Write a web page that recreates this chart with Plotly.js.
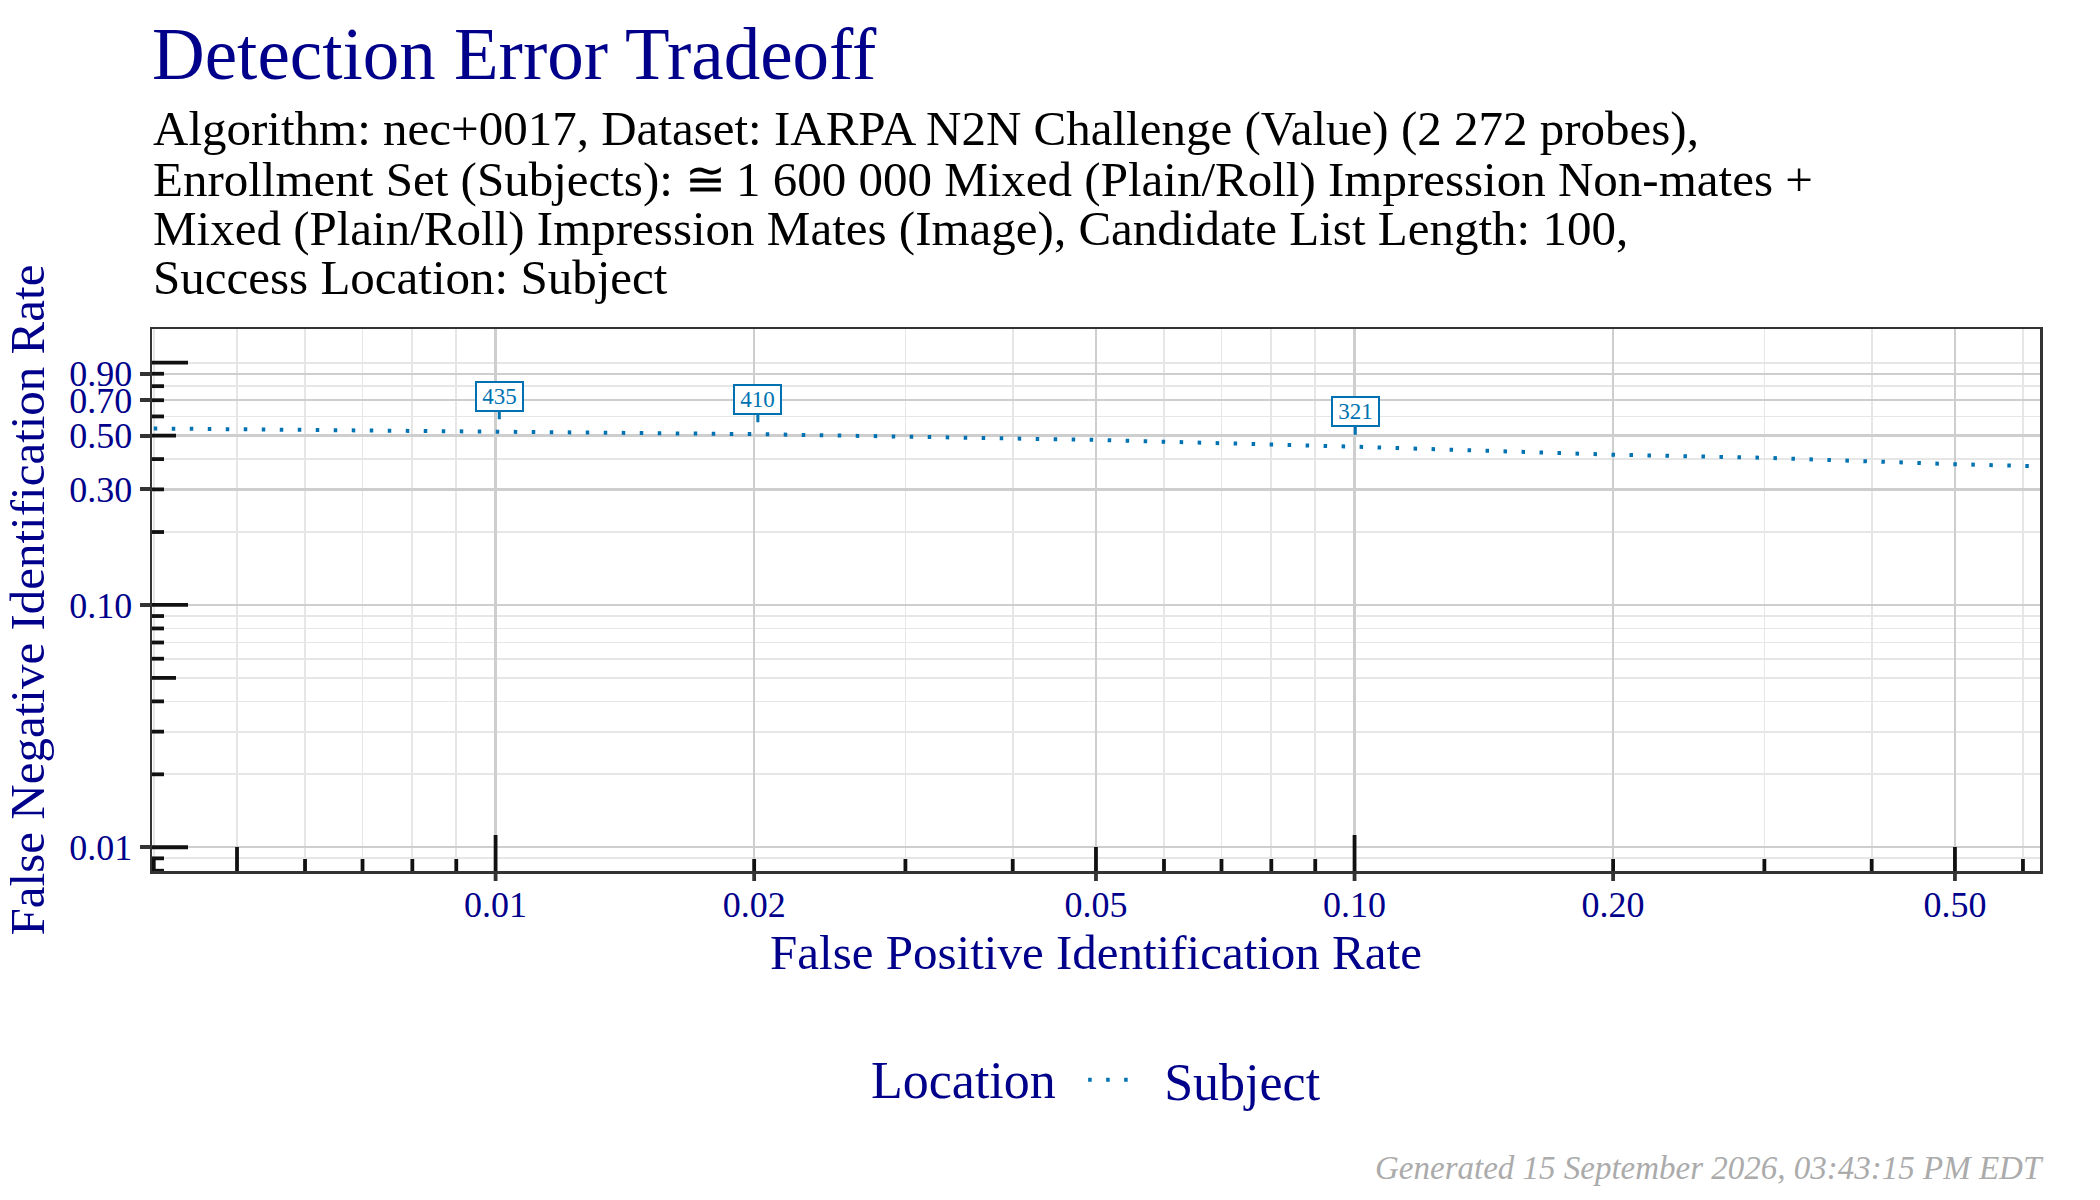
<!DOCTYPE html>
<html>
<head>
<meta charset="utf-8">
<script src="https://cdn.plot.ly/plotly-3.0.1.min.js"></script>
<style>html,body{margin:0;padding:0;background:#fff;}</style>
</head>
<body>
<div id="chart" style="width:2100px;height:1200px;"></div>
<script>
// Data
const fpir = [0.0040, 0.0060, 0.0101, 0.0202, 0.050, 0.100, 0.200, 0.300, 0.500, 0.640];
const fnir = [0.535, 0.527, 0.521, 0.507, 0.480, 0.450, 0.417, 0.405, 0.381, 0.373];
const seriesName = 'Subject';
const legendTitle = 'Location';

// Threshold labels
const thrFpir = [0.0101, 0.0202, 0.1002];
const thrFnir = [0.521, 0.507, 0.450];
const thrLabel = ['435', '410', '321'];

// Axis ticks
const xTickVals = [0.01, 0.02, 0.05, 0.1, 0.2, 0.5];
const xTickText = ['0.01', '0.02', '0.05', '0.10', '0.20', '0.50'];
const yTickVals = [0.01, 0.1, 0.3, 0.5, 0.7, 0.9];
const yTickText = ['0.01', '0.10', '0.30', '0.50', '0.70', '0.90'];
const xMinorVals = [0.004, 0.005, 0.006, 0.007, 0.008, 0.009, 0.03, 0.04, 0.06, 0.07, 0.08, 0.09, 0.3, 0.4, 0.6];
const yMinorVals = [0.008, 0.009, 0.02, 0.03, 0.04, 0.05, 0.06, 0.07, 0.08, 0.09, 0.2, 0.4, 0.6, 0.8, 1.0];

// Log-tick annotation marks (long / medium / short)
const xLogLong = [0.01, 0.1];
const xLogMed = [0.005, 0.05, 0.5];
const xLogShort = [0.004, 0.006, 0.007, 0.008, 0.009, 0.02, 0.03, 0.04, 0.06, 0.07, 0.08, 0.09, 0.2, 0.3, 0.4, 0.6];
const yLogLong = [0.01, 0.1, 1.0];
const yLogMed = [0.05, 0.5];
const yLogShort = [0.008, 0.009, 0.02, 0.03, 0.04, 0.06, 0.07, 0.08, 0.09, 0.2, 0.3, 0.4, 0.6, 0.7, 0.8, 0.9];

const titleText = 'Detection Error Tradeoff';
const subtitleLines = [
  'Algorithm: nec+0017, Dataset: IARPA N2N Challenge (Value) (2 272 probes),',
  'Enrollment Set (Subjects): \u2245\u20091 600 000 Mixed (Plain/Roll) Impression Non-mates +',
  'Mixed (Plain/Roll) Impression Mates (Image), Candidate List Length: 100,',
  'Success Location: Subject'
];
const footerText = 'Generated 15 September 2026, 03:43:15 PM EDT';

const FONT = 'Liberation Serif, Times New Roman, serif';
const NAVY = '#00008B';
const BLUE = '#0072B2';
const TICKC = '#111111';
const FRAME = '#333333';

const lens = {long: 36, med: 24, short: 12, out: 10};
const PLOT_TOP = 329, PLOT_BOTTOM = 871, PLOT_H = PLOT_BOTTOM - PLOT_TOP;
const py = Y => (PLOT_BOTTOM - Y) / PLOT_H; // pixel row -> paper y

const shapes = [];
function addX(vals, len, color, w) {
  vals.forEach(v => shapes.push({
    type: 'line', xref: 'x', yref: 'paper', ysizemode: 'pixel', yanchor: 0,
    x0: v, x1: v, y0: 0, y1: len, layer: 'above',
    line: {color: color, width: w}
  }));
}
function addY(vals, len) {
  vals.forEach(v => shapes.push({
    type: 'line', yref: 'y', xref: 'paper', xsizemode: 'pixel', xanchor: 0,
    y0: v, y1: v, x0: 0, x1: len, layer: 'above',
    line: {color: TICKC, width: 3.8}
  }));
}
addX(xLogLong, lens.long, TICKC, 3.8); addX(xLogMed, lens.med, TICKC, 3.8); addX(xLogShort, lens.short, TICKC, 3.8);
addX(xTickVals, -lens.out, FRAME, 3.8);
addY(yLogLong, lens.long); addY(yLogMed, lens.med); addY(yLogShort, lens.short);

const annotations = [];
thrLabel.forEach((t, i) => annotations.push({
  x: Math.log10(thrFpir[i]), y: Math.log10(thrFnir[i]), xref: 'x', yref: 'y',
  text: t, showarrow: true, arrowhead: 0, arrowwidth: 3, arrowcolor: BLUE,
  ax: 0, ay: -35, standoff: 12,
  font: {family: FONT, size: 23, color: BLUE},
  bgcolor: '#ffffff', bordercolor: BLUE, borderwidth: 2, borderpad: 1,
  width: 43, height: 25
}));
const SUB_SIZE = 49;
const subBaselines = [146, 197, 246.3, 295];
subtitleLines.forEach((line, i) => annotations.push({
  xref: 'paper', yref: 'paper', x: 0, y: py(subBaselines[i] + 0.216 * SUB_SIZE),
  xanchor: 'left', yanchor: 'bottom', valign: 'bottom', height: 49,
  align: 'left', showarrow: false, text: line, borderpad: 0,
  font: {family: FONT, size: SUB_SIZE, color: '#000000'}
}));
annotations.push({
  xref: 'paper', yref: 'paper', x: 1, y: py(1188), xanchor: 'right', yanchor: 'bottom',
  showarrow: false, text: '<i>' + footerText + '</i>', xshift: 6,
  font: {family: FONT, size: 33, color: '#ababab'}
});
const LEG_Y = py(1080);
annotations.push({
  xref: 'paper', yref: 'paper', x: 0.4799, y: LEG_Y, xanchor: 'right', yanchor: 'middle',
  showarrow: false, text: legendTitle,
  font: {family: FONT, size: 52, color: NAVY}
});

const trace = {
  x: fpir, y: fnir, type: 'scatter', mode: 'lines', name: '\u00a0\u00a0' + seriesName,
  line: {color: BLUE, width: 4, dash: '3.5px,14.5px'},
  hoverinfo: 'skip'
};

const axisCommon = {
  type: 'log', showline: true, mirror: true, linecolor: FRAME, linewidth: 2.5,
  showgrid: true, gridcolor: '#cecece', gridwidth: 2.3,
  tickfont: {family: FONT, size: 36, color: NAVY},
  zeroline: false, tickmode: 'array'
};

const layout = {
  width: 2100, height: 1200,
  margin: {l: 152, r: 60, t: PLOT_TOP, b: 1200 - PLOT_BOTTOM},
  paper_bgcolor: '#ffffff', plot_bgcolor: '#ffffff',
  font: {family: FONT, color: NAVY},
  title: {
    text: titleText, xref: 'paper', x: 0, xanchor: 'left',
    yref: 'container', y: 0.9764, yanchor: 'top',
    font: {family: FONT, size: 73, color: NAVY}
  },
  xaxis: Object.assign({}, axisCommon, {
    range: [-2.400, -0.202], tickvals: xTickVals, ticktext: xTickText, ticks: '',
    minor: {tickmode: 'array', tickvals: xMinorVals, showgrid: true, gridcolor: '#e6e6e6', gridwidth: 1.7, ticks: ''},
    title: {text: 'False Positive Identification Rate', font: {family: FONT, size: 49, color: NAVY}, standoff: 8}
  }),
  yaxis: Object.assign({}, axisCommon, {
    range: [-2.098, 0.139], tickvals: yTickVals, ticktext: yTickText,
    ticks: 'outside', ticklen: 10, tickwidth: 3.8, tickcolor: FRAME,
    minor: {tickmode: 'array', tickvals: yMinorVals, showgrid: true, gridcolor: '#e6e6e6', gridwidth: 1.7, ticks: ''},
    title: {text: 'False Negative Identification Rate', font: {family: FONT, size: 49, color: NAVY}, standoff: 14}
  }),
  showlegend: true,
  legend: {
    orientation: 'h', x: 0.4932, xanchor: 'left', y: LEG_Y, yanchor: 'middle',
    font: {family: FONT, size: 52, color: NAVY}, itemwidth: 45, bgcolor: 'rgba(0,0,0,0)'
  },
  shapes: shapes,
  annotations: annotations
};

Plotly.newPlot('chart', [trace], layout, {displayModeBar: false, staticPlot: true});
</script>
</body>
</html>
